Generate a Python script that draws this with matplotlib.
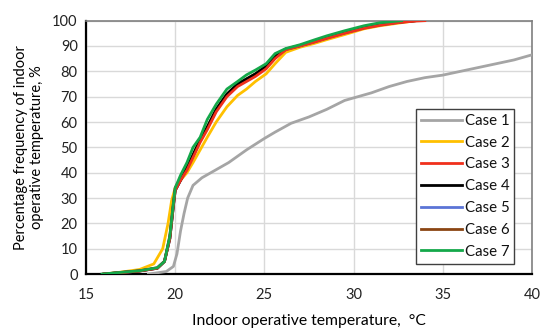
import matplotlib
matplotlib.use("Agg")
import matplotlib.pyplot as plt

plt.rcParams['font.family'] = ['Lato', 'DejaVu Sans']

labels = ["Case 1", "Case 2", "Case 3", "Case 4", "Case 5", "Case 6", "Case 7"]
colors = ["#A5A5A5", "#FFC000", "#F0301C", "#000000", "#5B74D6", "#8B4513", "#14A84A"]

t1 = [18.5, 19.5, 19.9, 20.1, 20.3, 20.5, 20.7, 21.0, 21.5, 22.0, 22.5, 23.0, 24.0, 25.0, 25.6,
      26.5, 27.5, 28.5, 29.5, 30.0, 31.0, 32.0, 33.0, 34.0, 35.0, 36.0, 37.0, 38.0, 39.0, 40.0]
p1 = [0, 1, 3, 8, 17, 24, 30, 35, 38, 40, 42, 44, 49, 53.5, 56,
      59.5, 62, 65, 68.5, 69.5, 71.5, 74, 76, 77.5, 78.5, 80, 81.5, 83, 84.5, 86.5]

t2 = [16.0, 17.0, 18.0, 18.8, 19.3, 19.6, 19.8, 20.0, 20.3, 20.66, 21.0, 21.4, 21.8, 22.3, 22.9,
      23.5, 24.0, 24.5, 25.1, 25.6, 26.2, 27.0, 27.8, 28.5, 29.5, 30.6, 31.5, 32.5, 33.5]
p2 = [0, 0.8, 1.8, 4, 10, 20, 29, 34, 37, 40, 44, 49, 54, 60, 66,
      70.5, 73, 76, 79, 83, 87.5, 89.5, 91, 92.5, 94.5, 96.8, 98, 99, 100]

t3 = [16.0, 17.0, 18.0, 19.0, 19.4, 19.7, 19.9, 20.0, 20.3, 20.66, 21.0, 21.4, 21.8, 22.3, 22.9,
      23.5, 24.0, 24.5, 25.1, 25.6, 26.2, 27.0, 27.8, 28.5, 29.5, 30.6, 31.5, 32.5, 33.4, 34.0]
p3 = [0, 0.6, 1.2, 2.3, 5, 14, 27, 33, 37, 41, 46, 52, 57, 64, 70,
      74, 76, 78, 81, 85, 88.5, 90, 91.5, 93, 95, 97, 98.2, 99.2, 99.8, 100]

t4 = [16.0, 17.0, 18.0, 19.0, 19.4, 19.7, 19.9, 20.0, 20.3, 20.66, 21.0, 21.4, 21.8, 22.3, 22.9,
      23.5, 24.0, 24.5, 25.1, 25.6, 26.2, 27.0, 27.8, 28.5, 29.5, 30.6, 31.5, 32.5, 33.5]
p4 = [0, 0.6, 1.2, 2.3, 5, 14, 27, 33, 37, 42, 47, 53, 58, 65, 71,
      75, 77, 79, 82, 86, 88.8, 90.2, 91.8, 93.3, 95.3, 97.3, 98.5, 99.4, 100]

t5 = t4
p5 = [0, 0.6, 1.2, 2.3, 5, 14, 27, 33, 37, 41.5, 46.5, 52.5, 57.5, 64.5, 70.5,
      74.5, 76.5, 78.5, 81.5, 85.5, 88.6, 90, 91.6, 93.1, 95.1, 97.1, 98.3, 99.3, 100]

t6 = t4
p6 = [0, 0.7, 1.3, 2.5, 5, 15, 28, 34, 38, 42, 47, 53, 58, 65, 71,
      75, 77, 79, 82, 86, 88.7, 90.1, 91.7, 93.2, 95.2, 97.2, 98.4, 99.4, 100]

t7 = [15.9, 17.0, 18.0, 19.0, 19.4, 19.7, 19.9, 20.0, 20.3, 20.66, 21.0, 21.4, 21.8, 22.3, 22.9,
      23.5, 24.0, 24.5, 25.1, 25.6, 26.2, 27.0, 27.8, 28.5, 29.5, 30.6, 31.5, 32.7]
p7 = [0, 0.7, 1.3, 2.5, 5, 15, 28, 34, 39, 44, 50, 54, 61, 67, 73,
      76, 78.6, 80.5, 83, 87, 89, 90.5, 92.4, 94, 96, 98, 99.2, 100]

series = [(t1, p1), (t2, p2), (t3, p3), (t4, p4), (t5, p5), (t6, p6), (t7, p7)]
draw_order = [0, 1, 4, 5, 3, 2, 6]

xticks = [15, 20, 25, 30, 35, 40]
yticks = [0, 10, 20, 30, 40, 50, 60, 70, 80, 90, 100]

fig = plt.figure(figsize=(5.5, 3.33), dpi=100)
ax = fig.add_axes([0.1564, 0.177, 0.967 - 0.1564, 0.938 - 0.177])

lines = {}
for i in draw_order:
    t, p = series[i]
    ln, = ax.plot(t, p, color=colors[i], lw=2.0, label=labels[i], zorder=3 + draw_order.index(i))
    lines[i] = ln

ax.set_xlim(15, 40)
ax.set_ylim(0, 100)
ax.set_xticks(xticks)
ax.set_yticks(yticks)
ax.grid(True, color="#D9D9D9", lw=1.0, zorder=0)
ax.set_axisbelow(True)
ax.tick_params(axis="x", length=0, labelsize=10.5, pad=10)
ax.tick_params(axis="y", length=0, labelsize=10.5, pad=6)
for lab in ax.get_xticklabels() + ax.get_yticklabels():
    lab.set_color("#222222")

for s in ["left", "bottom"]:
    ax.spines[s].set_color("#000000")
    ax.spines[s].set_linewidth(1.6)
for s in ["top", "right"]:
    ax.spines[s].set_color("#7F7F7F")
    ax.spines[s].set_linewidth(1.2)

ax.set_xlabel("Indoor operative temperature,  \u00b0C", fontsize=11.3, labelpad=9)
ax.set_ylabel("Percentage frequency of indoor\noperative temperature, %", fontsize=10.5, labelpad=6)

leg = ax.legend([lines[i] for i in range(7)], labels, loc="lower left",
                bbox_to_anchor=(0.74, 0.04, 0.22, 0.62), mode="expand",
                frameon=True, fancybox=False, edgecolor="#404040", framealpha=1,
                fontsize=10.8, handlelength=2.7, handletextpad=0.2, labelspacing=0.52,
                borderpad=0.35, borderaxespad=0)
leg.get_frame().set_linewidth(1.0)
for txt in leg.get_texts():
    txt.set_color("#111111")

fig.savefig("out.png", dpi=100)
